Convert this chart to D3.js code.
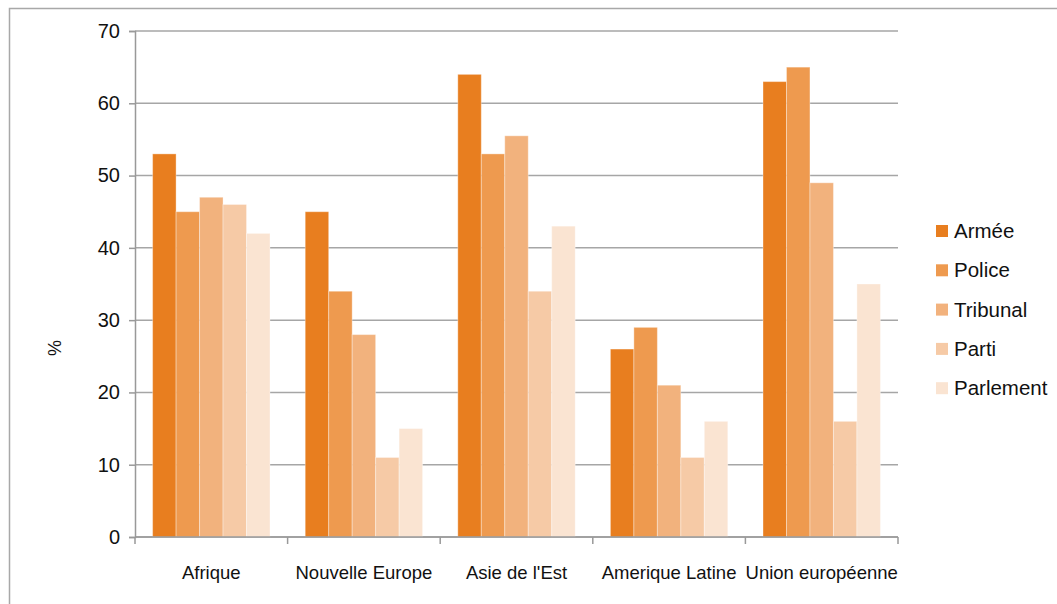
<!DOCTYPE html>
<html>
<head>
<meta charset="utf-8">
<script src="https://cdn.jsdelivr.net/npm/d3@7"></script>
<style>
  body { margin: 0; background: #fff; }
  text { font-family: "Liberation Sans", Arial, sans-serif; fill: #111; }
</style>
</head>
<body>
<div id="chart"></div>
<script>
// categories and series
let regions = ["Afrique", "Nouvelle Europe", "Asie de l'Est", "Amerique Latine", "Union européenne"];
let institutions = ["Armée", "Police", "Tribunal", "Parti", "Parlement"];
let armee = [53, 45, 64, 26, 63];
let police = [45, 34, 53, 29, 65];
let tribunal = [47, 28, 55.5, 21, 49];
let parti = [46, 11, 34, 11, 16];
let parlement = [42, 15, 43, 16, 35];
let yTicks = [0, 10, 20, 30, 40, 50, 60, 70];

let colors = ["#E87E1F", "#EE9A4F", "#F2B27D", "#F6CAA6", "#FAE4D2"];
let series = [armee, police, tribunal, parti, parlement];

let width = 1057, height = 604;
let margin = { left: 135, right: 159, top: 31, bottom: 67 };

let svg = d3.select("#chart").append("svg")
    .attr("width", width)
    .attr("height", height);

// outer frame (cropped in the original)
svg.append("path")
    .attr("d", "M9.5," + height + " V8.5 H" + width)
    .attr("fill", "none")
    .attr("stroke", "#a8a8a8")
    .attr("stroke-width", 1.5);

let x = d3.scaleBand()
    .domain(regions)
    .range([margin.left, width - margin.right])
    .paddingInner(0)
    .paddingOuter(0);

let xi = d3.scaleBand()
    .domain(institutions)
    .range([0, x.bandwidth()])
    .paddingOuter(0.75)
    .paddingInner(0);

let y = d3.scaleLinear()
    .domain([0, 70])
    .range([height - margin.bottom, margin.top]);

// gridlines
svg.append("g")
    .selectAll("line")
    .data(yTicks)
    .enter()
    .append("line")
    .attr("x1", margin.left)
    .attr("x2", width - margin.right)
    .attr("y1", d => y(d))
    .attr("y2", d => y(d))
    .attr("stroke", "#a6a6a6")
    .attr("stroke-width", 1.5);

// bars
let rows = [];
regions.forEach(function (r, i) {
    institutions.forEach(function (s, j) {
        rows.push({ region: r, inst: s, value: series[j][i], color: colors[j] });
    });
});

svg.append("g")
    .selectAll("rect")
    .data(rows)
    .enter()
    .append("rect")
    .attr("x", d => x(d.region) + xi(d.inst))
    .attr("y", d => y(d.value))
    .attr("width", xi.bandwidth())
    .attr("height", d => y(0) - y(d.value))
    .attr("fill", d => d.color)
    .attr("stroke", "#fff")
    .attr("stroke-opacity", 0.35)
    .attr("stroke-width", 1);

// y axis
let yAxis = svg.append("g")
    .attr("transform", "translate(" + margin.left + ",0)")
    .call(d3.axisLeft(y).tickValues(yTicks).tickSize(6).tickPadding(9));
yAxis.select(".domain").attr("stroke", "#999").attr("stroke-width", 1.5);
yAxis.selectAll(".tick line").attr("stroke", "#999").attr("stroke-width", 1.5);
yAxis.selectAll(".tick text")
    .attr("font-size", 20)
    .attr("fill", "#111")
    .attr("font-family", "Liberation Sans, Arial, sans-serif");

// x axis with ticks between categories
let xAxis = svg.append("g")
    .attr("transform", "translate(0," + y(0) + ")");
xAxis.append("line")
    .attr("x1", margin.left)
    .attr("x2", width - margin.right)
    .attr("stroke", "#999")
    .attr("stroke-width", 1.5);
let bounds = regions.map(r => x(r)).concat([x(regions[regions.length - 1]) + x.bandwidth()]);
xAxis.selectAll(".sep")
    .data(bounds)
    .enter()
    .append("line")
    .attr("class", "sep")
    .attr("x1", d => d)
    .attr("x2", d => d)
    .attr("y1", 0)
    .attr("y2", 7)
    .attr("stroke", "#999")
    .attr("stroke-width", 1.5);
xAxis.selectAll(".lab")
    .data(regions)
    .enter()
    .append("text")
    .attr("class", "lab")
    .attr("x", d => x(d) + x.bandwidth() / 2)
    .attr("y", 42)
    .attr("text-anchor", "middle")
    .attr("font-size", 18.5)
    .text(d => d);

// y axis title
svg.append("text")
    .attr("transform", "translate(61,348) rotate(-90)")
    .attr("text-anchor", "middle")
    .attr("font-size", 18)
    .text("%");

// legend
let legend = svg.append("g")
    .attr("transform", "translate(936,231)");
let item = legend.selectAll("g")
    .data(institutions)
    .enter()
    .append("g")
    .attr("transform", (d, i) => "translate(0," + (i * 39.3) + ")");
item.append("rect")
    .attr("x", 0)
    .attr("y", -6)
    .attr("width", 12)
    .attr("height", 12)
    .attr("fill", (d, i) => colors[i]);
item.append("text")
    .attr("x", 18)
    .attr("y", 7)
    .attr("font-size", 20.5)
    .text(d => d);
</script>
</body>
</html>
